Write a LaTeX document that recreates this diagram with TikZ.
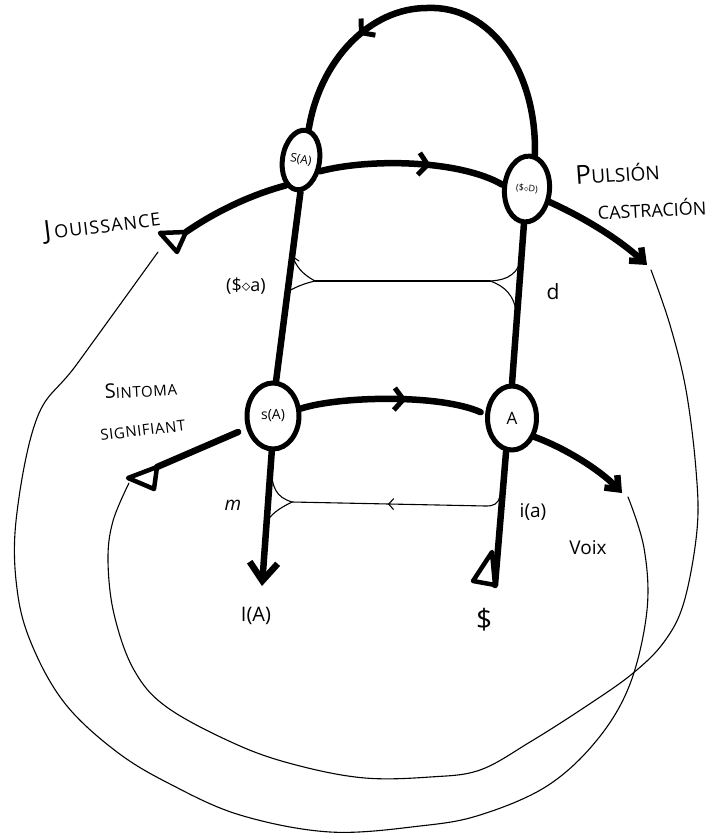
\documentclass[tikz,border=0pt]{standalone}
\usepackage{fontspec}
\setmainfont{Open Sans}
\usetikzlibrary{arrows.meta,decorations.markings,shapes.geometric,calc}
\tikzset{
  heavy/.style={line width=6.5pt, line cap=round, line join=round},
  fine/.style={line width=1.1pt, line cap=round, line join=round},
  knot/.style={ellipse, draw, line width=5pt, fill=white, inner sep=0pt},
  lbl/.style={inner sep=0pt, font=\fontsize{18}{18}\selectfont},
  midbarb/.style={postaction={decorate}, decoration={markings,
     mark=at position #1 with {\arrow{Straight Barb[length=9pt,width=22pt,line width=5pt]}}}},
  midthin/.style={postaction={decorate}, decoration={markings,
     mark=at position #1 with {\arrow{Straight Barb[length=5pt,width=11pt,line width=1.1pt]}}}},
  tailtri/.style={line width=4.5pt, line join=round, fill=white},
}
\begin{document}
\begin{tikzpicture}[x=1pt,y=-1pt]
\useasboundingbox (0,0) rectangle (723,835);

% ---------- knots ----------
\node[knot, minimum width=37pt, minimum height=60pt, rotate=-9,
      font=\fontsize{12}{12}\selectfont] (UL) at (301,160) {S(A)};
\node[knot, minimum width=45pt, minimum height=66pt, rotate=-5,
      font=\fontsize{9}{9}\selectfont] (UR) at (527,189) {(\$$\diamond$D)};
\node[knot, minimum width=52pt, minimum height=66pt,
      font=\fontsize{14}{14}\selectfont] (LL) at (273,416) {s(A)};
\node[knot, minimum width=49pt, minimum height=64pt,
      font=\fontsize{17}{17}\selectfont] (LR) at (512,418) {A};

% ---------- free ends ----------
\coordinate (peak) at (427,8);
\coordinate (Ja) at (160,233); \coordinate (Jb) at (186,232); \coordinate (Jc) at (177,252);
\coordinate (Sa) at (128,478); \coordinate (Sb) at (157,467); \coordinate (Sc) at (154,489);
\coordinate (Da) at (492,552); \coordinate (Db) at (473,581); \coordinate (Dc) at (495,585);
\coordinate (Ptip) at (647,265);
\coordinate (Vtip) at (622,493);
\coordinate (Itip) at (262,586);

% ---------- top loop ----------
\draw[heavy, midbarb=0.72] (UR.82) .. controls (537,70) and (490,5) .. (peak)
      .. controls (370,8) and (320,60) .. (UL.85);

% ---------- upper chain ----------
\draw[heavy, midbarb=0.6] (UL.-22) .. controls (370,158) and (460,160) .. (UR.175);
\draw[heavy] (UL.-112) .. controls (250,195) and (215,212) .. (Jb);
\draw[tailtri] (Ja) -- (Jb) -- (Jc) -- cycle;
\draw[heavy, -{Straight Barb[length=11pt,width=18pt]}]
      (UR.-25) .. controls (585,218) and (620,240) .. (Ptip);

% ---------- lower chain ----------
\draw[heavy, midbarb=0.57, shorten >=5pt] (LL.15) .. controls (340,396) and (440,394) .. (LR.172);
\draw[heavy, shorten <=9pt] (LL.205) -- (Sb);
\draw[tailtri] (Sa) -- (Sb) -- (Sc) -- cycle;
\draw[heavy, -{Straight Barb[length=11pt,width=18pt]}]
      (LR.-40) .. controls (565,448) and (600,470) .. (Vtip);

% ---------- verticals ----------
\draw[heavy] (UL.-82) -- (LL.85);
\draw[heavy, -{Straight Barb[length=18pt,width=28pt]}] (LL.-92) -- (Itip);
\draw[heavy] (UR.south) -- (LR.north);
\draw[heavy] (LR.-100) -- (Dc);
\draw[tailtri] (Da) -- (Db) -- (Dc) -- cycle;

% ---------- thin upper connection ----------
\coordinate (J1) at (315,281);
\coordinate (J2) at (490,281);
\draw[fine] (J1) -- (J2);
\draw[fine] (J1) .. controls (302,274) and (296,266) .. (293,257) -- (299,261);
\draw[fine] (J1) .. controls (302,284) and (294,288) .. (287,292);
\draw[fine] (J2) .. controls (510,280) and (518,272) .. (521,259);
\draw[fine] (J2) .. controls (505,286) and (514,296) .. (516,311);

% ---------- thin lower connection ----------
\coordinate (J3) at (292,502);
\coordinate (R4) at (500,496);
\draw[fine, midthin=0.55] (R4) .. controls (498,504) and (494,506) .. (486,506) -- (J3);
\draw[fine] (J3) .. controls (276,497) and (272,488) .. (271,467);
\draw[fine] (J3) .. controls (280,508) and (270,514) .. (265,525);

% ---------- big thin loops ----------
\coordinate (jl) at (158,252);
\coordinate (vl) at (628,497);
\coordinate (sl) at (129,483);
\coordinate (pl) at (651,270);
\draw[fine] plot[smooth, tension=0.6] coordinates {(jl) (77,364) (37,418) (16,521) (18,596)
   (35,652) (67,706) (117,752) (170,784) (240,815) (330,832) (420,826) (480,815) (547,786)
   (597,740) (630,684) (647,610) (644,548) (vl)};
\draw[fine] plot[smooth, tension=0.6] coordinates {(sl) (113,521) (108,560) (114,614)
   (134,670) (168,708) (240,746) (300,766) (365,778) (430,777) (480,770) (530,742)
   (585,707) (632,674) (664,642) (684,602) (697,530) (696,470) (686,390) (670,325) (pl)};

% ---------- labels ----------
\node[lbl, rotate=7, anchor=base west] (tJ) at (45,240)
   {{\fontsize{26}{26}\selectfont J}\hspace{3pt}{\fontsize{18}{18}\selectfont\addfontfeature{LetterSpace=6}OUISSANCE}};
\node[lbl, rotate=4, anchor=base west] (tP) at (576,185)
   {{\fontsize{26}{26}\selectfont P}{\fontsize{19}{19}\selectfont ULSIÓN}};
\node[lbl, rotate=3, anchor=base west, font=\fontsize{18}{18}\selectfont] (tC) at (598,220) {CASTRACIÓN};
\node[lbl, rotate=3, anchor=base west] (tS) at (105,399)
   {{\fontsize{20}{20}\selectfont S}{\fontsize{15}{15}\selectfont\addfontfeature{LetterSpace=4}INTOMA}};
\node[lbl, rotate=7, anchor=base west, font=\fontsize{15}{15}\selectfont] (tG) at (101,441)
   {\addfontfeature{LetterSpace=4}SIGNIFIANT};
\node[lbl] (tsoa) at (246,286) {(\$$\diamond$a)};
\node[lbl, font=\fontsize{21}{21}\selectfont] (td) at (553,292) {d};
\node[lbl, font=\itshape\fontsize{19}{19}\selectfont] (tm) at (233,505) {m};
\node[lbl, font=\fontsize{19}{19}\selectfont] (tia) at (533,512) {i(a)};
\node[lbl, font=\fontsize{19}{19}\selectfont] (tV) at (588,548) {Voix};
\node[lbl, font=\fontsize{20}{20}\selectfont] (tIA) at (256,616) {I(A)};
\node[lbl, font=\fontsize{28}{28}\selectfont] (tD) at (484,620) {\$};
\end{tikzpicture}
\end{document}
